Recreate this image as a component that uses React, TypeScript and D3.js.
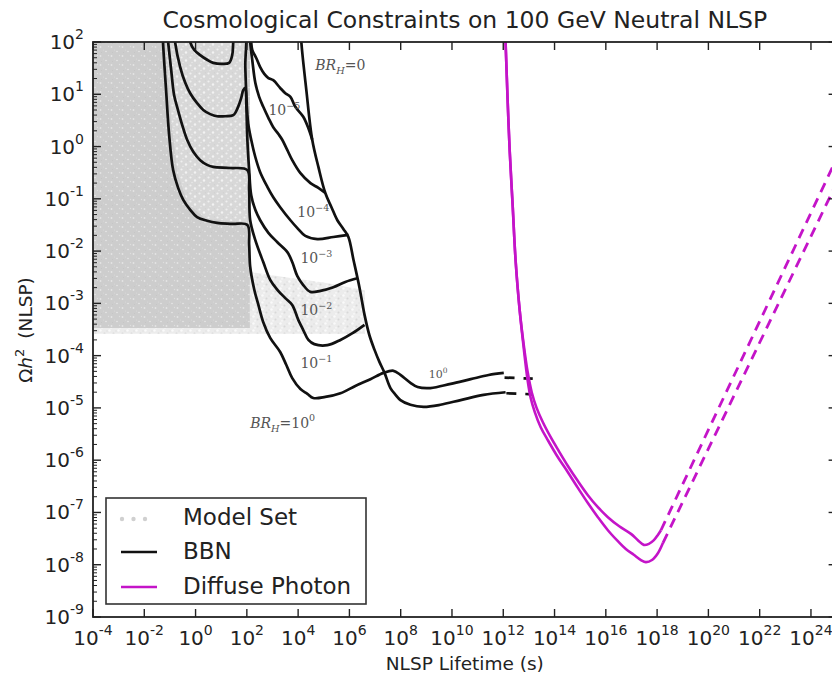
import React from "react";
import * as d3 from "d3";

// All series: [log10(lifetime / s), log10(Omega h^2)].
const bbnBR0: number[][] = [
  [4.09, 2.42], [4.125, 2.0], [4.32, 1.08], [4.55, 0.13], [4.79, -0.39], [5.06, -0.89],
  [5.3, -1.16], [5.53, -1.41], [5.77, -1.58], [5.96, -1.73], [6.16, -2.17], [6.39, -2.69],
  [6.59, -3.22], [6.78, -3.61], [6.98, -3.89], [7.17, -4.12], [7.37, -4.33], [7.6, -4.62],
  [7.8, -4.75], [7.99, -4.85], [8.38, -4.94], [8.89, -4.98], [9.55, -4.94], [10.34, -4.85],
  [11.23, -4.75], [12.09, -4.7],
];
const bbnBR1e5: number[][] = [
  [2.13, 2.42], [2.17, 2.0], [2.21, 1.85], [2.37, 1.69], [2.52, 1.52], [2.68, 1.39], [2.84, 1.31],
  [3.03, 1.27], [3.3, 1.12], [3.5, 1.02], [3.7, 0.95], [3.89, 0.76], [4.2, 0.57], [4.4, 0.35],
  [4.55, 0.13],
];
const bbnBR1e4: number[][] = [
  [2.09, 2.42], [2.13, 2.0], [2.21, 1.66], [2.33, 1.22], [2.48, 0.95], [2.64, 0.76], [2.84, 0.55],
  [3.03, 0.37], [3.23, 0.24], [3.38, 0.13], [3.58, -0.07], [3.77, -0.26], [4.09, -0.51],
  [4.48, -0.7], [4.79, -0.79], [5.06, -0.89],
];
const bbnBR1e3: number[][] = [
  [-0.29, 2.42], [-0.21, 2.0], [-0.05, 1.85], [0.18, 1.75], [0.45, 1.66], [0.69, 1.6], [1.04, 1.58],
  [1.31, 1.6], [1.43, 1.75], [1.47, 2.0], [1.55, 2.42], [1.9, 2.42], [1.94, 1.52], [1.98, 0.99],
  [2.05, 0.45], [2.17, 0.13], [2.33, -0.2], [2.52, -0.49], [2.8, -0.77], [3.03, -0.97],
  [3.3, -1.16], [3.7, -1.41], [3.97, -1.56], [4.28, -1.71], [4.75, -1.77], [5.375, -1.73],
  [5.96, -1.69],
];
const bbnBR1e2: number[][] = [
  [-0.875, 2.42], [-0.8, 2.0], [-0.6, 1.52], [-0.41, 1.23], [-0.21, 1.02], [0.06, 0.83],
  [0.3, 0.7], [0.57, 0.62], [0.84, 0.58], [1.16, 0.58], [1.47, 0.6], [1.66, 0.76], [1.78, 0.93],
  [1.86, 1.08], [1.94, 1.12], [1.98, 0.79], [2.02, 0.13], [2.09, -0.45], [2.17, -0.93],
  [2.33, -1.21], [2.52, -1.41], [2.84, -1.65], [3.19, -1.83], [3.58, -2.02], [3.77, -2.21],
  [3.97, -2.48], [4.2, -2.65], [4.48, -2.78], [4.87, -2.76], [5.375, -2.69], [5.84, -2.59],
  [6.31, -2.52],
];
const bbnBR1e1: number[][] = [
  [-1.15, 2.42], [-1.07, 2.0], [-0.95, 1.46], [-0.84, 0.99], [-0.72, 0.76], [-0.52, 0.41],
  [-0.33, 0.13], [-0.09, -0.1], [0.18, -0.26], [0.45, -0.35], [0.69, -0.39], [1.35, -0.41],
  [2.02, -0.45], [2.09, -0.83], [2.13, -1.41], [2.33, -1.79], [2.64, -2.21], [2.91, -2.55],
  [3.19, -2.74], [3.5, -2.9], [3.77, -3.03], [4.01, -3.32], [4.2, -3.51], [4.4, -3.7],
  [4.63, -3.78], [5.14, -3.8], [5.65, -3.7], [6.12, -3.57], [6.59, -3.41],
];
const bbnBR1: number[][] = [
  [-1.3, 2.42], [-1.27, 2.0], [-1.15, 1.08], [-1.03, 0.22], [-0.875, -0.45], [-0.68, -0.79],
  [-0.48, -1.02], [-0.21, -1.21], [0.06, -1.35], [0.45, -1.42], [0.84, -1.46], [1.43, -1.48],
  [2.02, -1.5], [2.09, -1.88], [2.13, -2.3], [2.29, -2.74], [2.45, -3.03], [2.64, -3.36],
  [2.91, -3.66], [3.3, -3.93], [3.54, -4.18], [3.77, -4.43], [4.09, -4.64], [4.36, -4.73],
  [4.59, -4.81], [5.06, -4.79], [5.65, -4.72], [6.23, -4.58], [6.82, -4.45], [7.33, -4.33],
  [7.72, -4.29], [7.99, -4.37], [8.38, -4.52], [8.66, -4.6], [9.16, -4.62], [9.95, -4.54],
  [10.73, -4.45], [11.43, -4.37], [12.02, -4.33],
];
const bbnDashUpper: number[][] = [[12.05, -4.42], [13.15, -4.44]];
const bbnDashLower: number[][] = [[12.12, -4.72], [13.15, -4.74]];

const photonUpper: number[][] = [
  [12.05, 2.42], [12.09, 2.0], [12.17, 0.89], [12.25, -0.07], [12.37, -1.16], [12.48, -2.17],
  [12.64, -3.13], [12.8, -3.8], [12.95, -4.31], [13.11, -4.7], [13.3, -5.0], [13.54, -5.27],
  [13.85, -5.56], [14.16, -5.82], [14.52, -6.11], [14.91, -6.4], [15.3, -6.67], [15.69, -6.9],
  [16.08, -7.09], [16.51, -7.26], [16.98, -7.41], [17.25, -7.53], [17.48, -7.62], [17.68, -7.6],
  [17.875, -7.53], [18.03, -7.43], [18.15, -7.34],
];
const photonLower: number[][] = [
  [12.05, 2.42], [12.09, 2.0], [12.17, 0.89], [12.25, -0.07], [12.37, -1.16], [12.48, -2.17],
  [12.64, -3.13], [12.79, -3.82], [12.95, -4.47], [13.07, -4.81], [13.23, -5.08], [13.46, -5.37],
  [13.73, -5.61], [14.125, -5.94], [14.52, -6.23], [14.91, -6.53], [15.3, -6.82], [15.69, -7.09],
  [16.08, -7.34], [16.47, -7.55], [16.78, -7.7], [17.09, -7.81], [17.37, -7.91], [17.56, -7.95],
  [17.8, -7.91], [18.03, -7.78], [18.23, -7.58],
];
const photonDashUpper: number[][] = [[18.15, -7.34], [25.0, -0.23]];
const photonDashLower: number[][] = [[18.23, -7.58], [25.0, -0.7]];

// Model Set cloud, outlined as regions
const modelSetDense: number[][] = [[-4, 2], [2.12, 2], [2.12, -3.47], [-4, -3.47]];
const modelSetInner: number[][] = [
  [-1.15, 2], [-0.95, 0.5], [-0.7, -0.5], [-0.3, -1.1], [0.4, -1.38], [2.02, -1.45], [2.02, 2],
];
const modelSetBand: number[][] = [
  [2.12, -2.4], [3.5, -2.5], [5.0, -2.6], [6.6, -2.75], [6.6, -3.45], [2.12, -3.5],
];
const modelSetFringe: number[][] = [[-4, -3.3], [6.6, -3.3], [6.6, -3.58], [-4, -3.58]];

const xTickExps = [-4, -2, 0, 2, 4, 6, 8, 10, 12, 14, 16, 18, 20, 22, 24];
const yTickExps = [-9, -8, -7, -6, -5, -4, -3, -2, -1, 0, 1, 2];

const curveLabels = [
  { lx: 4.67, ly: 1.46, br: true, base: "0", exp: "", small: false },
  { lx: 2.84, ly: 0.6, br: false, base: "10", exp: "\u22125", small: false },
  { lx: 3.97, ly: -1.35, br: false, base: "10", exp: "\u22124", small: false },
  { lx: 4.09, ly: -2.23, br: false, base: "10", exp: "\u22123", small: false },
  { lx: 4.09, ly: -3.22, br: false, base: "10", exp: "\u22122", small: false },
  { lx: 4.09, ly: -4.24, br: false, base: "10", exp: "\u22121", small: false },
  { lx: 2.13, ly: -5.38, br: true, base: "10", exp: "0", small: false },
  { lx: 9.09, ly: -4.43, br: false, base: "10", exp: "0", small: true },
];

const legendItems = ["Model Set", "BBN", "Diffuse Photon"];

const MAGENTA = "#c414c8";
const FONT = "DejaVu Sans";

export default function App() {
  const x = d3.scaleLog().domain([1e-4, 1e25]).range([93, 836.6]);
  const y = d3.scaleLog().domain([1e-9, 1e2]).range([617, 42]);
  const P = (d: number[]): [number, number] => [x(Math.pow(10, d[0])), y(Math.pow(10, d[1]))];
  const curve = d3.line().curve(d3.curveCatmullRom.alpha(0.5));
  const straight = d3.line();
  const poly = d3.line().curve(d3.curveLinearClosed);
  const cp = (arr: number[][]) => curve(arr.map(P)) || "";
  const sp = (arr: number[][]) => straight(arr.map(P)) || "";
  const pp = (arr: number[][]) => poly(arr.map(P)) || "";

  const [x0, x1] = x.range();
  const [y0, y1] = y.range();

  const minorY: number[] = [];
  for (let e = -9; e < 2; e++) for (let k = 2; k <= 9; k++) minorY.push(k * Math.pow(10, e));

  const bbn = [bbnBR0, bbnBR1e5, bbnBR1e4, bbnBR1e3, bbnBR1e2, bbnBR1e1, bbnBR1];

  return (
    <svg width={832} height={677} style={{ position: "absolute", left: 0, top: 0, background: "#fff" }}
      fontFamily={FONT}>
      <defs>
        <clipPath id="plot">
          <rect x={x0} y={y1} width={x1 - x0} height={y0 - y1} />
        </clipPath>
        <pattern id="speckDense" width={11} height={9} patternUnits="userSpaceOnUse">
          <rect width={11} height={9} fill="#cdcdcd" />
          <circle cx={1.5} cy={2} r={0.9} fill="#e4e4e4" />
          <circle cx={7} cy={6.5} r={0.8} fill="#e8e8e8" />
          <circle cx={4.5} cy={5} r={0.6} fill="#dadada" />
          <circle cx={9.5} cy={1.5} r={0.7} fill="#dedede" />
          <circle cx={2.5} cy={7.5} r={0.5} fill="#c4c4c4" />
        </pattern>
        <pattern id="speckLight" width={9} height={8} patternUnits="userSpaceOnUse">
          <rect width={9} height={8} fill="#d8d8d8" />
          <circle cx={1.5} cy={1.5} r={1.1} fill="#efefef" />
          <circle cx={6} cy={4.5} r={1.2} fill="#f2f2f2" />
          <circle cx={3} cy={6.5} r={0.8} fill="#e8e8e8" />
          <circle cx={7.5} cy={0.8} r={0.6} fill="#cfcfcf" />
        </pattern>
        <pattern id="speckBand" width={9} height={7} patternUnits="userSpaceOnUse">
          <rect width={9} height={7} fill="#ececec" />
          <circle cx={1.5} cy={1.5} r={1.2} fill="#fafafa" />
          <circle cx={5.5} cy={4.5} r={1.0} fill="#d8d8d8" />
          <circle cx={8} cy={2} r={0.7} fill="#e0e0e0" />
          <circle cx={3} cy={5.8} r={0.9} fill="#f8f8f8" />
        </pattern>
      </defs>

      <g clipPath="url(#plot)">
        <path d={pp(modelSetFringe)} fill="url(#speckBand)" />
        <path d={pp(modelSetDense)} fill="url(#speckDense)" />
        <path d={pp(modelSetInner)} fill="url(#speckLight)" />
        <path d={pp(modelSetBand)} fill="url(#speckBand)" />

        {bbn.map((c, i) => (
          <path key={i} d={cp(c)} fill="none" stroke="#111" strokeWidth={2.7} strokeLinejoin="round" />
        ))}
        <path d={sp(bbnDashUpper)} fill="none" stroke="#111" strokeWidth={2.7} strokeDasharray="10,9" />
        <path d={sp(bbnDashLower)} fill="none" stroke="#111" strokeWidth={2.7} strokeDasharray="10,9" />

        <path d={cp(photonUpper)} fill="none" stroke={MAGENTA} strokeWidth={2.6} />
        <path d={cp(photonLower)} fill="none" stroke={MAGENTA} strokeWidth={2.6} />
        <path d={sp(photonDashUpper)} fill="none" stroke={MAGENTA} strokeWidth={2.8} strokeDasharray="10,7" />
        <path d={sp(photonDashLower)} fill="none" stroke={MAGENTA} strokeWidth={2.8} strokeDasharray="10,7" />
      </g>

      {/* curve labels */}
      {curveLabels.map((l, i) => {
        const [px, py] = P([l.lx, l.ly]);
        const fs = l.small ? 11 : 14;
        return (
          <text key={i} x={px} y={py} fontFamily="DejaVu Serif" fontSize={fs} fill="#555">
            {l.br ? (
              <>
                <tspan fontStyle="italic">BR</tspan>
                <tspan fontStyle="italic" fontSize={fs * 0.7} dy={4}>H</tspan>
                <tspan dy={-4}>{"=" + l.base}</tspan>
              </>
            ) : (
              <tspan>{l.base}</tspan>
            )}
            {l.exp !== "" && (
              <tspan fontSize={fs * 0.68} dy={-fs * 0.45}>{l.exp}</tspan>
            )}
          </text>
        );
      })}

      {/* legend */}
      <g>
        <rect x={106} y={498} width={260} height={106} fill="#fff" stroke="#333" strokeWidth={1.6} />
        {[122, 133.5, 145].map((cx, i) => (
          <circle key={i} cx={cx} cy={519} r={2.2} fill="#d0d0d0" />
        ))}
        <line x1={121} x2={157} y1={552} y2={552} stroke="#111" strokeWidth={2.6} />
        <line x1={121} x2={157} y1={587} y2={587} stroke={MAGENTA} strokeWidth={2.6} />
        {legendItems.map((t, i) => (
          <text key={t} x={183} y={[525, 559, 594][i]} fontSize={23} fill="#222">{t}</text>
        ))}
      </g>

      {/* spines */}
      <rect x={x0} y={y1} width={x1 - x0} height={y0 - y1} fill="none" stroke="#222" strokeWidth={1.8} />

      {/* x ticks */}
      {xTickExps.map((e) => {
        const px = x(Math.pow(10, e));
        return (
          <g key={e}>
            <line x1={px} x2={px} y1={y0} y2={y0 - 8} stroke="#222" strokeWidth={1.4} />
            <line x1={px} x2={px} y1={y1} y2={y1 + 8} stroke="#222" strokeWidth={1.4} />
            <text x={px} y={645} textAnchor="middle" fontSize={20} fill="#222">
              <tspan>10</tspan>
              <tspan fontSize={14} dy={-10}>{e < 0 ? "-" + Math.abs(e) : String(e)}</tspan>
            </text>
          </g>
        );
      })}

      {/* y ticks */}
      {minorY.map((v, i) => (
        <g key={"m" + i}>
          <line x1={x0} x2={x0 + 4} y1={y(v)} y2={y(v)} stroke="#222" strokeWidth={1} />
          <line x1={x1} x2={x1 - 4} y1={y(v)} y2={y(v)} stroke="#222" strokeWidth={1} />
        </g>
      ))}
      {yTickExps.map((e) => {
        const py = y(Math.pow(10, e));
        return (
          <g key={e}>
            <line x1={x0} x2={x0 + 8} y1={py} y2={py} stroke="#222" strokeWidth={1.4} />
            <line x1={x1} x2={x1 - 8} y1={py} y2={py} stroke="#222" strokeWidth={1.4} />
            <text x={84} y={py + 7} textAnchor="end" fontSize={20} fill="#222">
              <tspan>10</tspan>
              <tspan fontSize={14} dy={-10}>{e < 0 ? "-" + Math.abs(e) : String(e)}</tspan>
            </text>
          </g>
        );
      })}

      {/* titles */}
      <text x={(x0 + x1) / 2} y={28} textAnchor="middle" fontSize={23.5} fill="#222">
        Cosmological Constraints on 100 GeV Neutral NLSP
      </text>
      <text x={(x0 + x1) / 2} y={670} textAnchor="middle" fontSize={18.5} fill="#222">
        NLSP Lifetime (s)
      </text>
      <text transform="translate(32,330) rotate(-90)" textAnchor="middle" fontSize={18.5} fill="#222">
        <tspan>Ω</tspan>
        <tspan fontStyle="italic">h</tspan>
        <tspan fontSize={13} dy={-8}>2</tspan>
        <tspan dy={8} dx={10}>(NLSP)</tspan>
      </text>
    </svg>
  );
}
